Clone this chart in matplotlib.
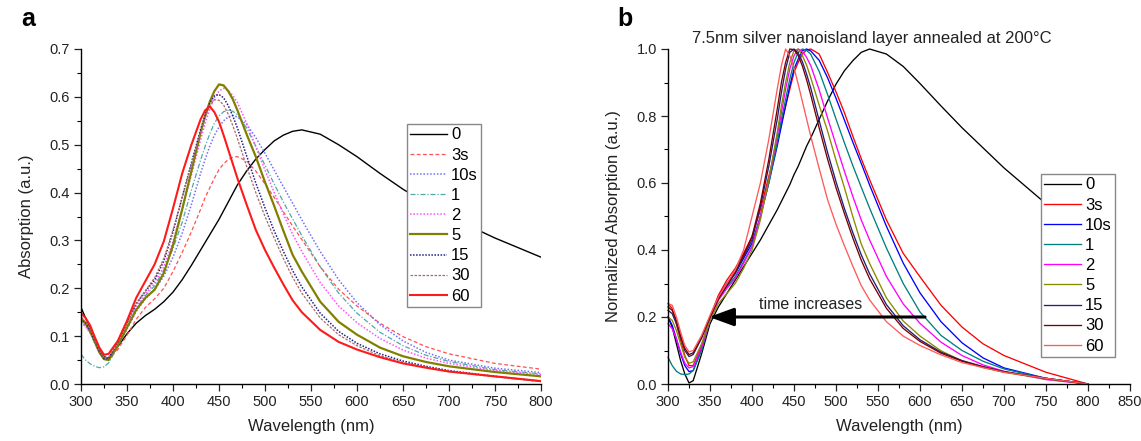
"""
Recreate the two-panel absorption figure: (a) raw spectra of a silver
nanoisland layer after annealing times, (b) the same spectra normalized.
"""

import matplotlib

matplotlib.use("Agg")
import matplotlib.pyplot as plt
from matplotlib.ticker import MultipleLocator, FormatStrFormatter

plt.rcParams["font.family"] = ["Liberation Sans", "DejaVu Sans"]

# wavelength grid (nm) shared by all curves
wavelength = [300, 305, 310, 315, 320, 325, 330, 340, 350, 360, 370, 380, 390,
              400, 410, 420, 430, 435, 440, 445, 450, 455, 460, 465, 470, 480,
              490, 500, 510, 520, 530, 540, 560, 580, 600, 625, 650, 675, 700,
              750, 800]

labels = ["0", "3s", "10s", "1", "2", "5", "15", "30", "60"]

# panel a: absorption (a.u.)
abs_0 = [0.160, 0.138, 0.118, 0.095, 0.072, 0.057, 0.054, 0.078, 0.105, 0.127, 0.143, 0.156, 0.172,
         0.192, 0.218, 0.248, 0.280, 0.296, 0.312, 0.328, 0.344, 0.362, 0.380, 0.398, 0.416, 0.445,
         0.470, 0.490, 0.508, 0.520, 0.528, 0.531, 0.522, 0.500, 0.475, 0.440, 0.407, 0.378, 0.350,
         0.305, 0.265]
abs_3s = [0.140, 0.130, 0.115, 0.092, 0.070, 0.056, 0.053, 0.072, 0.102, 0.135, 0.160, 0.178, 0.200,
          0.235, 0.275, 0.318, 0.365, 0.390, 0.410, 0.430, 0.448, 0.460, 0.469, 0.474, 0.475, 0.466,
          0.445, 0.418, 0.390, 0.360, 0.330, 0.302, 0.245, 0.198, 0.163, 0.127, 0.099, 0.078, 0.063,
          0.043, 0.031]
abs_10s = [0.130, 0.122, 0.108, 0.087, 0.066, 0.053, 0.052, 0.078, 0.115, 0.152, 0.178, 0.197, 0.225,
           0.265, 0.315, 0.375, 0.440, 0.470, 0.497, 0.520, 0.537, 0.550, 0.558, 0.561, 0.558, 0.543,
           0.515, 0.482, 0.447, 0.412, 0.378, 0.343, 0.277, 0.218, 0.170, 0.124, 0.090, 0.066, 0.050,
           0.033, 0.024]
abs_1 = [0.062, 0.050, 0.042, 0.037, 0.034, 0.036, 0.044, 0.078, 0.118, 0.158, 0.185, 0.205, 0.238,
         0.283, 0.338, 0.405, 0.468, 0.497, 0.523, 0.545, 0.560, 0.569, 0.572, 0.570, 0.563, 0.535,
         0.497, 0.457, 0.418, 0.380, 0.345, 0.310, 0.245, 0.190, 0.148, 0.108, 0.080, 0.060, 0.047,
         0.030, 0.021]
abs_2 = [0.128, 0.120, 0.106, 0.086, 0.066, 0.052, 0.051, 0.083, 0.124, 0.163, 0.189, 0.210, 0.245,
         0.298, 0.365, 0.437, 0.510, 0.545, 0.575, 0.598, 0.612, 0.618, 0.614, 0.603, 0.588, 0.545,
         0.495, 0.447, 0.400, 0.355, 0.313, 0.277, 0.212, 0.163, 0.128, 0.095, 0.071, 0.054, 0.043,
         0.028, 0.020]
abs_5 = [0.135, 0.126, 0.110, 0.088, 0.066, 0.052, 0.050, 0.080, 0.118, 0.155, 0.180, 0.197, 0.232,
         0.290, 0.365, 0.445, 0.525, 0.560, 0.590, 0.612, 0.626, 0.624, 0.612, 0.595, 0.572, 0.522,
         0.475, 0.422, 0.372, 0.320, 0.270, 0.235, 0.172, 0.130, 0.103, 0.076, 0.058, 0.046, 0.037,
         0.025, 0.016]
abs_15 = [0.137, 0.128, 0.112, 0.090, 0.068, 0.053, 0.053, 0.088, 0.128, 0.168, 0.194, 0.217, 0.257,
          0.318, 0.390, 0.462, 0.532, 0.562, 0.587, 0.602, 0.605, 0.598, 0.582, 0.560, 0.535, 0.477,
          0.420, 0.368, 0.320, 0.277, 0.237, 0.203, 0.148, 0.110, 0.085, 0.063, 0.048, 0.037, 0.028,
          0.016, 0.006]
abs_30 = [0.140, 0.130, 0.115, 0.092, 0.070, 0.055, 0.055, 0.088, 0.128, 0.168, 0.195, 0.222, 0.262,
          0.322, 0.390, 0.460, 0.527, 0.558, 0.582, 0.594, 0.593, 0.583, 0.564, 0.540, 0.513, 0.455,
          0.400, 0.350, 0.305, 0.262, 0.223, 0.190, 0.138, 0.103, 0.080, 0.059, 0.045, 0.035, 0.026,
          0.015, 0.005]
abs_60 = [0.148, 0.138, 0.122, 0.098, 0.076, 0.061, 0.063, 0.090, 0.132, 0.180, 0.215, 0.250, 0.298,
          0.367, 0.440, 0.500, 0.553, 0.572, 0.580, 0.568, 0.548, 0.520, 0.490, 0.460, 0.430, 0.375,
          0.322, 0.280, 0.243, 0.208, 0.175, 0.150, 0.113, 0.088, 0.072, 0.056, 0.043, 0.034, 0.026,
          0.016, 0.006]

# panel b: normalized absorption (a.u.)
norm_0 = [0.20, 0.17, 0.12, 0.07, 0.03, 0.003, 0.01, 0.09, 0.18, 0.23, 0.27, 0.31, 0.35,
          0.39, 0.43, 0.475, 0.52, 0.545, 0.57, 0.595, 0.625, 0.65, 0.68, 0.71, 0.735, 0.79,
          0.845, 0.895, 0.935, 0.965, 0.99, 1.0, 0.985, 0.948, 0.897, 0.83, 0.765, 0.705, 0.645,
          0.538, 0.44]
norm_3s = [0.24, 0.225, 0.18, 0.13, 0.085, 0.055, 0.055, 0.115, 0.20, 0.265, 0.31, 0.345, 0.39,
           0.44, 0.52, 0.62, 0.72, 0.78, 0.83, 0.88, 0.93, 0.96, 0.985, 0.997, 1.0, 0.985,
           0.93, 0.872, 0.81, 0.74, 0.673, 0.61, 0.49, 0.39, 0.32, 0.235, 0.17, 0.12, 0.085,
           0.035, 0.0]
norm_10s = [0.20, 0.175, 0.135, 0.09, 0.055, 0.037, 0.04, 0.105, 0.195, 0.26, 0.30, 0.33, 0.375,
            0.42, 0.50, 0.60, 0.71, 0.77, 0.83, 0.89, 0.94, 0.97, 0.995, 1.0, 0.994, 0.966,
            0.914, 0.853, 0.788, 0.722, 0.659, 0.594, 0.471, 0.361, 0.272, 0.186, 0.123, 0.078, 0.048,
            0.017, 0.0]
norm_1 = [0.08, 0.055, 0.038, 0.03, 0.028, 0.03, 0.04, 0.10, 0.19, 0.255, 0.29, 0.32, 0.365,
          0.41, 0.50, 0.60, 0.72, 0.79, 0.85, 0.91, 0.96, 0.99, 1.0, 0.996, 0.984, 0.933,
          0.864, 0.791, 0.72, 0.652, 0.588, 0.525, 0.406, 0.30, 0.215, 0.145, 0.10, 0.068, 0.045,
          0.016, 0.0]
norm_2 = [0.18, 0.165, 0.135, 0.095, 0.062, 0.048, 0.052, 0.11, 0.19, 0.25, 0.285, 0.315, 0.36,
          0.41, 0.50, 0.61, 0.74, 0.81, 0.88, 0.94, 0.98, 1.0, 0.993, 0.975, 0.95, 0.878,
          0.794, 0.714, 0.635, 0.56, 0.49, 0.43, 0.321, 0.239, 0.181, 0.125, 0.085, 0.057, 0.038,
          0.013, 0.0]
norm_5 = [0.20, 0.19, 0.16, 0.12, 0.08, 0.062, 0.066, 0.12, 0.19, 0.24, 0.27, 0.30, 0.345,
          0.40, 0.49, 0.61, 0.75, 0.83, 0.90, 0.96, 0.995, 1.0, 0.98, 0.952, 0.914, 0.832,
          0.755, 0.668, 0.586, 0.50, 0.418, 0.36, 0.257, 0.188, 0.143, 0.099, 0.069, 0.049, 0.035,
          0.015, 0.0]
norm_15 = [0.22, 0.21, 0.18, 0.14, 0.10, 0.082, 0.088, 0.137, 0.20, 0.255, 0.293, 0.33, 0.38,
           0.43, 0.53, 0.65, 0.79, 0.87, 0.94, 0.99, 1.0, 0.988, 0.962, 0.925, 0.883, 0.786,
           0.691, 0.604, 0.524, 0.452, 0.386, 0.329, 0.237, 0.174, 0.132, 0.095, 0.07, 0.052, 0.037,
           0.017, 0.0]
norm_30 = [0.23, 0.22, 0.19, 0.145, 0.107, 0.088, 0.093, 0.14, 0.20, 0.255, 0.295, 0.335, 0.385,
           0.44, 0.54, 0.67, 0.82, 0.90, 0.96, 1.0, 0.998, 0.981, 0.949, 0.908, 0.862, 0.764,
           0.671, 0.586, 0.509, 0.436, 0.37, 0.314, 0.226, 0.166, 0.127, 0.092, 0.068, 0.051, 0.036,
           0.017, 0.0]
norm_60 = [0.24, 0.235, 0.20, 0.155, 0.115, 0.096, 0.10, 0.145, 0.205, 0.26, 0.30, 0.34, 0.40,
           0.50, 0.60, 0.73, 0.88, 0.95, 1.0, 0.979, 0.944, 0.895, 0.843, 0.791, 0.739, 0.643,
           0.55, 0.477, 0.413, 0.352, 0.294, 0.251, 0.186, 0.143, 0.115, 0.087, 0.064, 0.049, 0.035,
           0.017, 0.0]

# line styles: (color, dash pattern or None for solid, width)
STYLE_A = [
    ("#000000", None, 1.0),
    ("#ff5050", (3, 2), 0.9),
    ("#7070ff", (1, 1.2), 1.1),
    ("#50a8a8", (4, 1.5, 1, 1.5), 0.9),
    ("#ff50ff", (1, 1.2), 1.1),
    ("#808000", None, 1.6),
    ("#20208a", (1, 1), 1.1),
    ("#a86a6a", (2, 1.2), 0.9),
    ("#ff1a1a", None, 1.5),
]
STYLE_B = ["#000000", "#ff0000", "#0000ff", "#008080", "#ff00ff",
           "#8a8a00", "#20207a", "#7a0000", "#ff5a5a"]

W, H = 1141, 441


def _style_axis(ax, xmax, ymax, ymajor, yminor):
    ax.set_xlim(300, xmax)
    ax.set_ylim(0, ymax)
    for side in ("top", "right"):
        ax.spines[side].set_visible(False)
    for side in ("left", "bottom"):
        ax.spines[side].set_linewidth(1.0)
    ax.xaxis.set_major_locator(MultipleLocator(50))
    ax.xaxis.set_minor_locator(MultipleLocator(25))
    ax.yaxis.set_major_locator(MultipleLocator(ymajor))
    ax.yaxis.set_minor_locator(MultipleLocator(yminor))
    ax.yaxis.set_major_formatter(FormatStrFormatter("%.1f"))
    ax.tick_params(which="major", direction="out", length=5, width=0.9,
                   labelsize=10.5, pad=3, colors="#222222")
    ax.tick_params(which="minor", direction="out", length=3, width=0.8)
    ax.set_xlabel("Wavelength (nm)", fontsize=12, color="#222222", labelpad=7)


def _legend(ax, x, y):
    leg = ax.legend(loc="upper left", bbox_to_anchor=(x, y), fontsize=12,
                    handlelength=2.2, handletextpad=0.25, labelspacing=0.31,
                    borderpad=0.2, borderaxespad=0, fancybox=False,
                    framealpha=1, edgecolor="#888888")
    leg.get_frame().set_linewidth(1.0)


def main():
    fig = plt.figure(figsize=(W / 100, H / 100), dpi=100)

    # panel a
    ax1 = fig.add_axes([81 / W, 1 - 384 / H, 460 / W, 335 / H])
    series_a = [abs_0, abs_3s, abs_10s, abs_1, abs_2, abs_5, abs_15, abs_30, abs_60]
    for lab, ys, (col, dash, lw) in zip(labels, series_a, STYLE_A):
        line, = ax1.plot(wavelength, ys, color=col, lw=lw, label=lab)
        if dash is not None:
            line.set_dashes(dash)
    _style_axis(ax1, 800, 0.7, 0.1, 0.05)
    ax1.set_ylabel("Absorption (a.u.)", fontsize=12, color="#222222", labelpad=11)
    _legend(ax1, (407 - 81) / 460, (384 - 124) / 335)

    # panel b
    ax2 = fig.add_axes([668 / W, 1 - 384 / H, 462 / W, 335 / H])
    series_b = [norm_0, norm_3s, norm_10s, norm_1, norm_2, norm_5, norm_15, norm_30, norm_60]
    for lab, ys, col in zip(labels, series_b, STYLE_B):
        ax2.plot(wavelength, ys, color=col, lw=0.95, label=lab, clip_on=False)
    _style_axis(ax2, 850, 1.0, 0.2, 0.1)
    ax2.set_ylabel("Normalized Absorption (a.u.)", fontsize=12, color="#222222", labelpad=11)
    _legend(ax2, (1041 - 668) / 462, (384 - 174) / 335)

    ax2.annotate("", xy=(349, 0.2), xytext=(606, 0.2),
                 arrowprops=dict(arrowstyle="-|>,head_length=0.6,head_width=0.22",
                                 lw=2.2, color="black", mutation_scale=25,
                                 shrinkA=0, shrinkB=0))
    ax2.text(470, 0.238, "time increases", fontsize=11.5, ha="center", va="center",
             color="#222222")

    fig.text(872 / W, 1 - 38 / H, "7.5nm silver nanoisland layer annealed at 200\u00b0C",
             fontsize=12, ha="center", va="center", color="#222222")
    fig.text(28 / W, 1 - 19 / H, "a", fontsize=18, fontweight="bold", ha="center", va="center")
    fig.text(625 / W, 1 - 19 / H, "b", fontsize=18, fontweight="bold", ha="center", va="center")

    fig.savefig("out.png", dpi=100)


if __name__ == "__main__":
    main()
